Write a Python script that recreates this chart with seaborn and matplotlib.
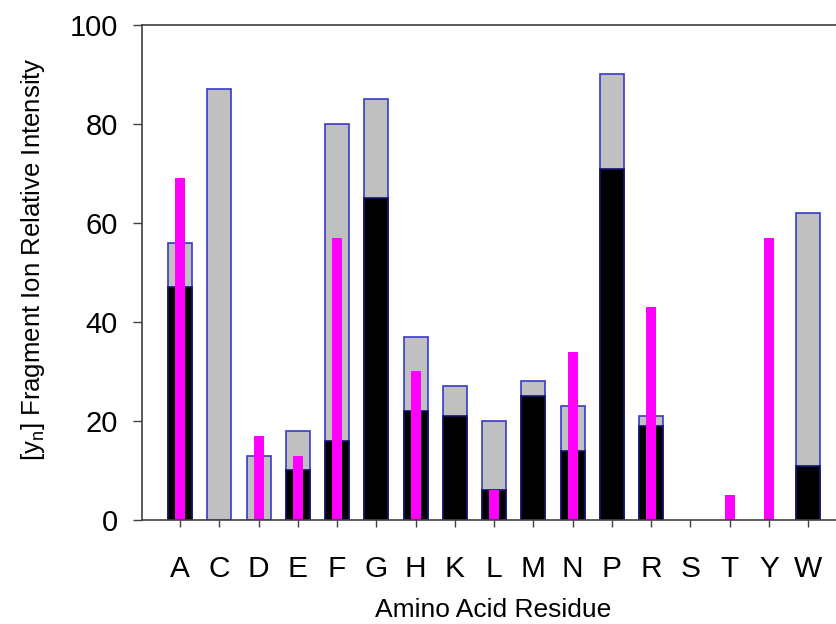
import numpy as np
import pandas as pd
import matplotlib
matplotlib.use('Agg')
import matplotlib.pyplot as plt
import seaborn as sns

# data
residues = ['A', 'C', 'D', 'E', 'F', 'G', 'H', 'K', 'L', 'M', 'N', 'P', 'R', 'S', 'T', 'Y', 'W']
gray_vals = [56, 87, 13, 18, 80, 85, 37, 27, 20, 28, 23, 90, 21, np.nan, np.nan, np.nan, 62]
black_vals = [47, np.nan, np.nan, 10, 16, 65, 22, 21, 6, 25, 14, 71, 19, np.nan, np.nan, np.nan, 11]
magenta_vals = [69, np.nan, 17, 13, 57, np.nan, 30, np.nan, 6, np.nan, 34, np.nan, 43, np.nan, 5, 57, np.nan]

sns.set_style('ticks')
plt.rcParams['font.family'] = ['Liberation Sans', 'DejaVu Sans']
plt.rcParams['mathtext.fontset'] = 'custom'
plt.rcParams['mathtext.rm'] = 'Liberation Sans'
plt.rcParams['text.color'] = 'black'
plt.rcParams['axes.labelcolor'] = 'black'
plt.rcParams['xtick.labelcolor'] = 'black'
plt.rcParams['ytick.labelcolor'] = 'black'

df = pd.DataFrame({'residue': residues, 'gray': gray_vals,
                   'black': black_vals, 'magenta': magenta_vals})

fig = plt.figure(figsize=(8.36, 6.24), dpi=100)
ax = fig.add_axes([0.170, 0.1667, 0.830, 0.7933])

sns.barplot(data=df, x='residue', y='gray', order=residues, width=0.61,
            color='#c0c0c0', saturation=1, edgecolor='#3a3ac8', linewidth=1.2, ax=ax)
sns.barplot(data=df, x='residue', y='black', order=residues, width=0.61,
            color='#000000', saturation=1, edgecolor='#14146e', linewidth=1.2, ax=ax)
sns.barplot(data=df, x='residue', y='magenta', order=residues, width=0.25,
            color='#ff00ff', saturation=1, linewidth=0, ax=ax)

ax.set_xlim(-0.97, 16.71)
ax.set_ylim(0, 100)
ax.set_yticks([0, 20, 40, 60, 80, 100])

for s in ['left', 'bottom', 'top']:
    ax.spines[s].set_visible(True)
    ax.spines[s].set_color('#404040')
    ax.spines[s].set_linewidth(1.2)
ax.spines['right'].set_visible(False)

ax.tick_params(axis='y', labelsize=21, length=6.5, width=1, color='#404040', pad=11)
ax.tick_params(axis='x', labelsize=21.5, length=5, width=1, color='#404040', pad=20)

ax.set_xlabel('Amino Acid Residue', fontsize=19, labelpad=11)
ax.set_ylabel(r'[y$_\mathregular{n}$] Fragment Ion Relative Intensity', fontsize=18.5, labelpad=16)
ax.xaxis.label.set_x(0.506)
ax.yaxis.label.set_y(0.527)

plt.savefig('out.png', dpi=100)
